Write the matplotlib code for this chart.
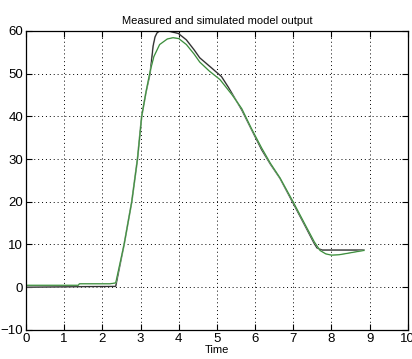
import matplotlib.pyplot as plt

# measured output
meas_t = [0, 2.35, 2.57, 2.77, 2.92, 3.03, 3.14, 3.25, 3.33, 3.38, 3.43, 3.5, 3.56, 3.75, 3.99,
          4.2, 4.4, 4.55, 4.85, 5.12, 5.3, 5.65, 5.9, 6.17, 6.4, 6.65, 7.0, 7.3, 7.55, 7.62,
          7.75, 8.2, 8.85]
meas_y = [0, 0.2, 10, 20, 30, 40, 45.5, 50, 56.5, 58.6, 59.5, 60, 60.2, 59.9, 59.4,
          57.9, 55.6, 53.7, 51.4, 49.3, 46.8, 41.5, 37, 32.2, 28.8, 25.5, 19.6, 14.5, 10.2, 9.2,
          8.7, 8.7, 8.7]

# simulated model output
sim_t = [0, 1.37, 1.4, 2.2, 2.35, 2.57, 2.77, 2.92, 3.03, 3.15, 3.25, 3.35, 3.5, 3.7, 3.85, 4.0,
         4.2, 4.4, 4.55, 4.8, 5.08, 5.4, 5.65, 5.9, 6.17, 6.4, 6.65, 7.0, 7.3, 7.55, 7.7,
         7.85, 8.0, 8.2, 8.4, 8.65, 8.85]
sim_y = [0.45, 0.45, 0.8, 0.8, 1.0, 10, 20, 30, 40, 46, 50.5, 54, 56.8, 58.1, 58.4, 58.2,
         56.8, 54.6, 52.7, 50.6, 48.6, 45.0, 41.8, 37.2, 32.6, 29.0, 25.6, 19.9, 14.8, 10.6, 8.6,
         7.8, 7.5, 7.6, 7.9, 8.3, 8.6]

plt.rcParams['font.family'] = ['Liberation Sans', 'DejaVu Sans']

fig = plt.figure(figsize=(4.12, 3.59), dpi=100)
ax = fig.add_axes([0.063, 0.081, 0.927, 0.833])

ax.plot(meas_t, meas_y, color='#999999', lw=1.2)
ax.plot(meas_t, meas_y, color='#1a1a1a', lw=0.6)
ax.plot(sim_t, sim_y, color='#9ad49a', lw=1.1)
ax.plot(sim_t, sim_y, color='#2e7a2e', lw=0.6)

ax.set_xlim(0, 10)
ax.set_ylim(-10, 60)
ax.set_xticks(range(0, 11))
ax.set_yticks(range(-10, 61, 10))
ax.grid(True, color='black', linestyle=(0, (1, 3)), linewidth=0.7)
ax.tick_params(direction='in', length=4, labelsize=9.5, pad=2,
               top=True, right=True)
for s in ax.spines.values():
    s.set_linewidth(0.9)

ax.set_title('Measured and simulated model output', fontsize=8, pad=5)
ax.set_xlabel('Time', fontsize=8, labelpad=0)

fig.savefig('out.png', dpi=100)
